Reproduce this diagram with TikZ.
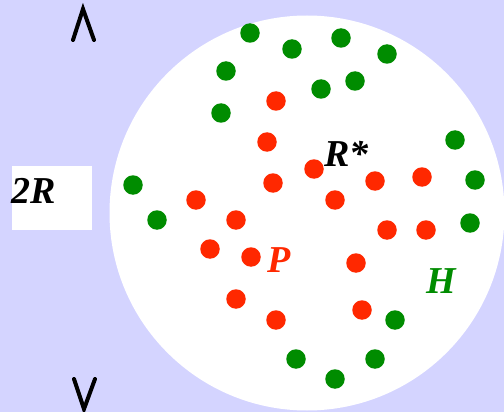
\documentclass[tikz,border=0pt]{standalone}
\usepackage{fontspec}
\setmainfont{Liberation Serif}
\definecolor{bglav}{RGB}{212,212,255}
\definecolor{dotgreen}{RGB}{0,140,0}
\definecolor{dotred}{RGB}{255,40,0}
\begin{document}
\begin{tikzpicture}[x=1pt,y=-1pt,
  gdot/.style={circle,fill=dotgreen,inner sep=0pt,minimum size=19.5pt},
  rdot/.style={circle,fill=dotred,inner sep=0pt,minimum size=19.5pt},
  lbl/.style={inner sep=0pt,anchor=base west,font=\fontsize{38}{38}\selectfont\bfseries\itshape},
  chev/.style={line width=4pt,line cap=round,line join=miter}]
\useasboundingbox (0,0) rectangle (504,412);
\fill[bglav] (0,0) rectangle (504,412);
\fill[white] (307,213) circle (197.5);
\fill[white] (12,166) rectangle (92,230);
\node[lbl] (twoR) at (11,204) {2R};
% chevrons
\coordinate (ta) at (73,40);
\coordinate (tb) at (83,9);
\coordinate (tc) at (94,40);
\draw[chev] (ta) -- (tb) -- (tc);
\coordinate (ba) at (74,379);
\coordinate (bb) at (84,409);
\coordinate (bc) at (95,379);
\draw[chev] (ba) -- (bb) -- (bc);
% green dots
\foreach \n/\x/\y in {g1/250/33,g2/292/49,g3/341/38,g4/387/54,g5/226/71,g6/321/89,g7/355/81,g8/221/113,g9/455/140,g10/133/185,g11/475/180,g12/157/220,g13/470/223,g14/395/320,g15/296/359,g16/375/359,g17/335/379}
  \node[gdot] (\n) at (\x,\y) {};
% red dots
\foreach \n/\x/\y in {r1/276/101,r2/267/142,r3/314/169,r4/273/183,r5/375/181,r6/422/177,r7/335/200,r8/196/200,r9/236/220,r10/387/230,r11/426/230,r12/210/249,r13/251/257,r14/356/263,r15/236/299,r16/362/310,r17/276/320}
  \node[rdot] (\n) at (\x,\y) {};
\node[lbl] (Rstar) at (324,166) {R*};
\node[lbl,text=dotred] (P) at (267,272) {P};
\node[lbl,text=dotgreen] (H) at (426,293) {H};
\end{tikzpicture}
\end{document}
